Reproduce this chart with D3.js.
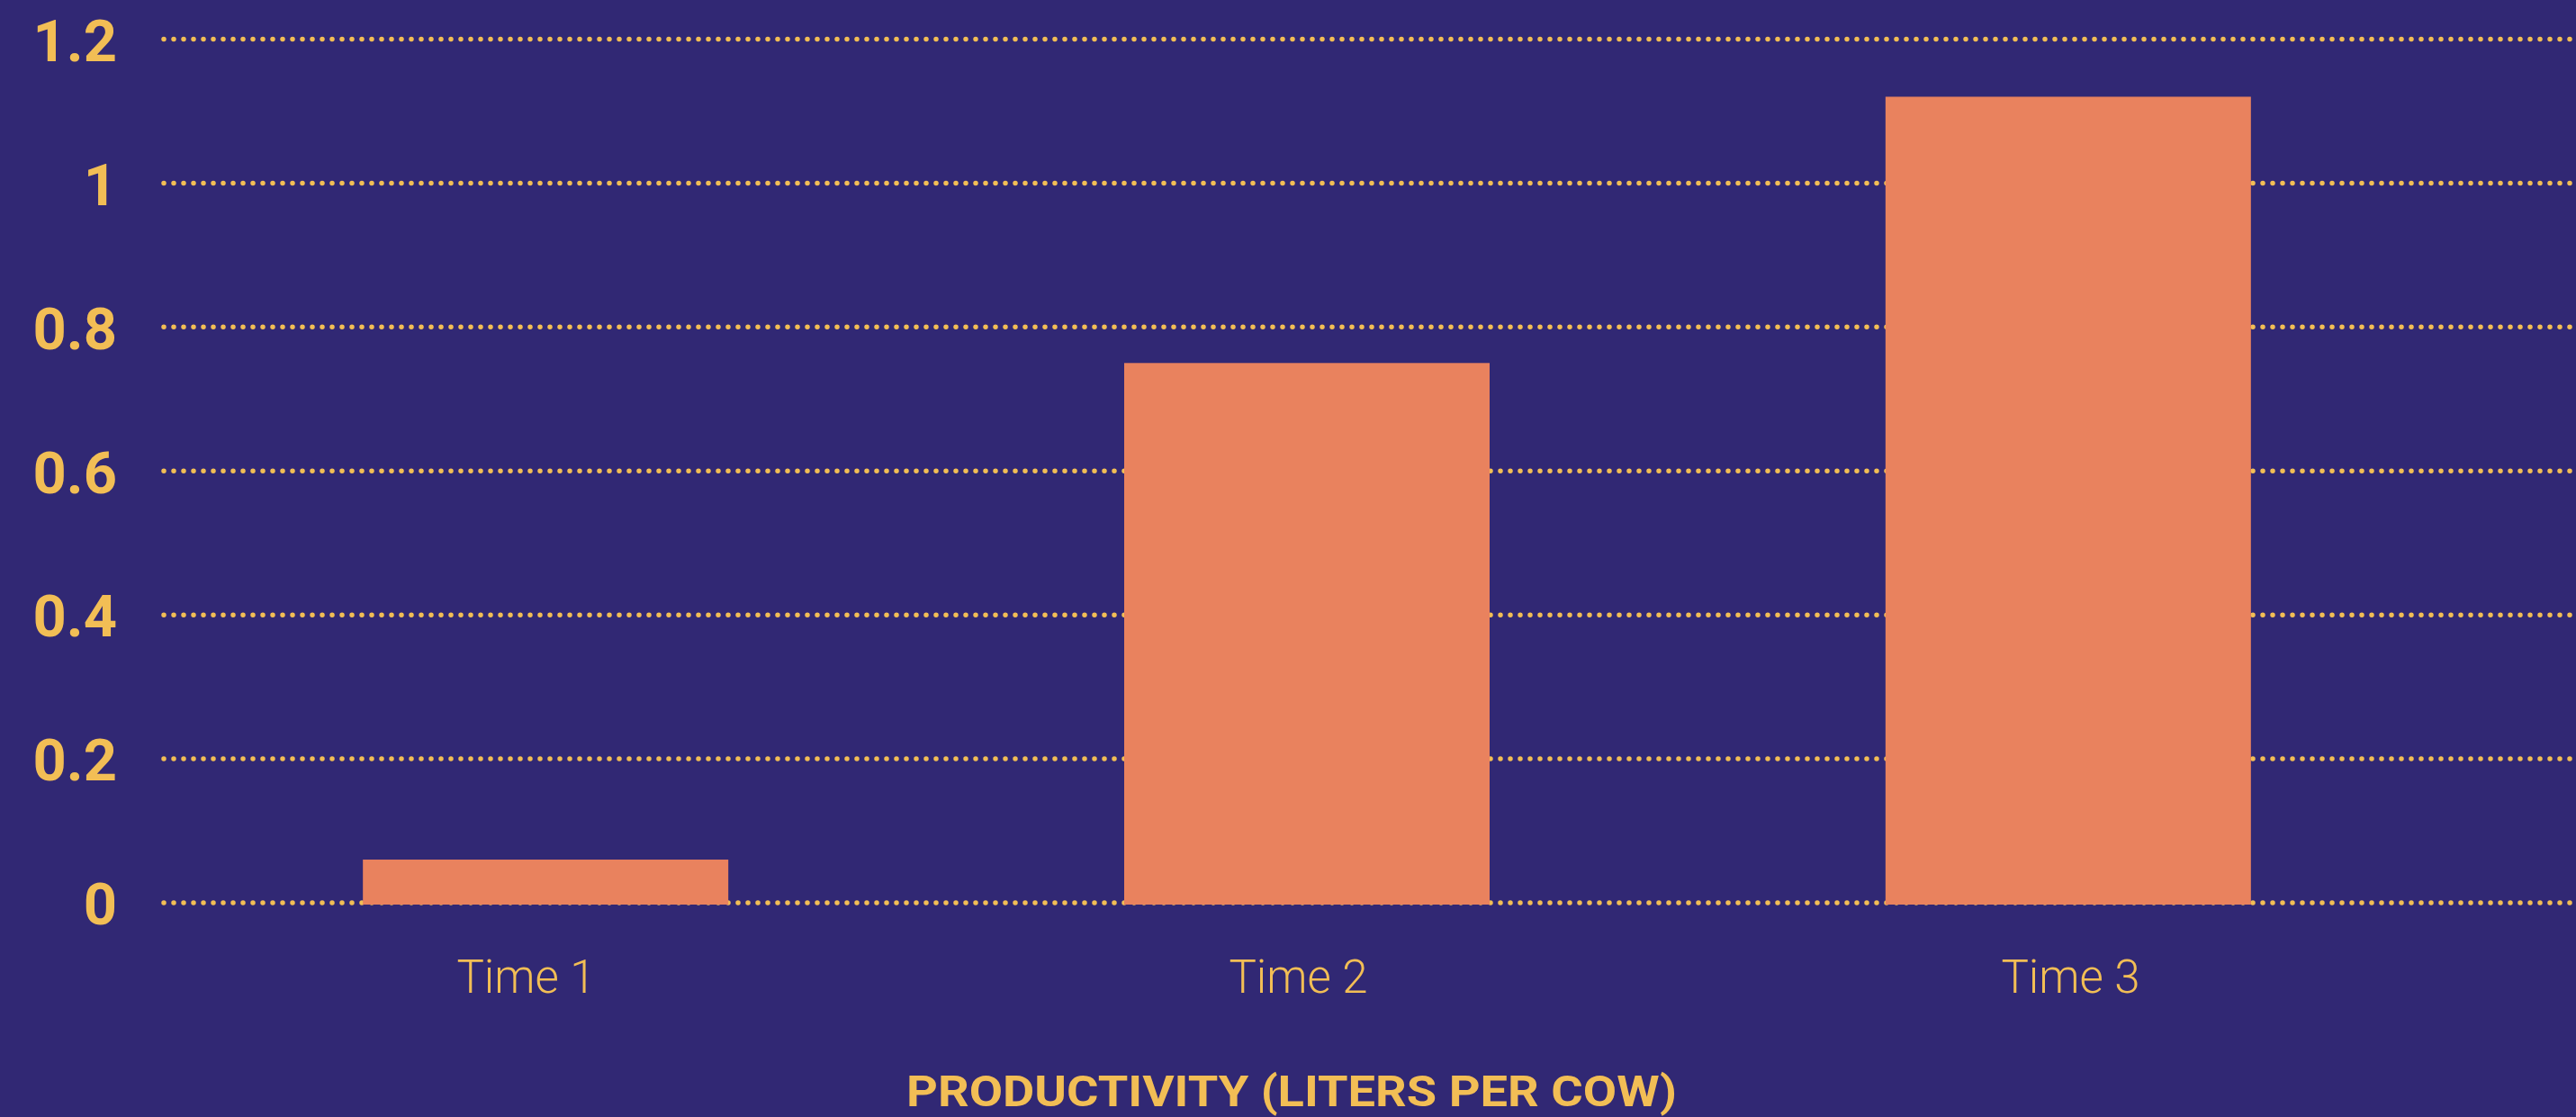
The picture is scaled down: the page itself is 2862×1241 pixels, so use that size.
<!DOCTYPE html>
<html>
<head>
<meta charset="utf-8">
<script src="https://cdn.jsdelivr.net/npm/d3@7"></script>
<style>
  html, body { margin: 0; padding: 0; background: #312874; }
  svg { display: block; }
</style>
</head>
<body>
<svg id="chart"></svg>
<script>
// Milk productivity per cow over three time points
const categories = ["Time 1", "Time 2", "Time 3"];
const productivity = [0.06, 0.75, 1.12];
const yTicks = [0, 0.2, 0.4, 0.6, 0.8, 1, 1.2];
const yTickLabels = ["0", "0.2", "0.4", "0.6", "0.8", "1", "1.2"];
const axisTitle = "PRODUCTIVITY (LITERS PER COW)";

const W = 2862, H = 1241;
const BG = "#312874", BAR = "#E9825E", INK = "#F2BE55";

const svg = d3.select("#chart").attr("width", W).attr("height", H);
svg.append("rect").attr("width", W).attr("height", H).attr("fill", BG);

const y = d3.scaleLinear().domain([0, 1.2]).range([1003, 43.5]);

// bar slots
const x = d3.scaleBand()
  .domain(categories)
  .range([234, 2670])
  .paddingInner(0.52)
  .paddingOuter(0.2);

// category label positions
const xLabel = d3.scalePoint()
  .domain(categories)
  .range([584, 2300]);

// dotted horizontal gridlines
const grid = svg.append("g").attr("class", "grid");
grid.selectAll("line")
  .data(yTicks)
  .join("line")
  .attr("x1", 182)
  .attr("x2", W)
  .attr("y1", d => y(d))
  .attr("y2", d => y(d))
  .attr("stroke", INK)
  .attr("stroke-width", 5.5)
  .attr("stroke-linecap", "round")
  .attr("stroke-dasharray", "0 11");

// y tick labels
const yAxis = d3.axisLeft(y)
  .tickValues(yTicks)
  .tickFormat((d, i) => yTickLabels[i])
  .tickSize(0)
  .tickPadding(0);
const gy = svg.append("g").attr("transform", "translate(130,3)").call(yAxis);
gy.select(".domain").remove();
gy.selectAll("text")
  .attr("fill", INK)
  .attr("font-family", "Roboto, 'Noto Sans', sans-serif")
  .attr("font-weight", 700)
  .attr("font-size", 65);

// bars
svg.append("g").selectAll("rect")
  .data(categories)
  .join("rect")
  .attr("x", d => x(d))
  .attr("width", x.bandwidth())
  .attr("y", (d, i) => y(productivity[i]))
  .attr("height", (d, i) => y(0) - y(productivity[i]) + 2)
  .attr("fill", BAR);

// x category labels
const xAxis = d3.axisBottom(xLabel).tickSize(0).tickPadding(0);
const gx = svg.append("g").attr("transform", "translate(0,1103)").call(xAxis);
gx.select(".domain").remove();
gx.selectAll("text")
  .attr("dy", 0)
  .attr("fill", INK)
  .attr("font-family", "Roboto, 'Noto Sans', sans-serif")
  .attr("font-weight", 300)
  .attr("font-size", 51);

// axis title
svg.append("text")
  .attr("x", 1435)
  .attr("y", 1229)
  .attr("text-anchor", "middle")
  .attr("fill", INK)
  .attr("font-family", "Roboto, 'Noto Sans', sans-serif")
  .attr("font-weight", 700)
  .attr("font-size", 49)
  .attr("textLength", 856)
  .attr("lengthAdjust", "spacingAndGlyphs")
  .text(axisTitle);
</script>
</body>
</html>
